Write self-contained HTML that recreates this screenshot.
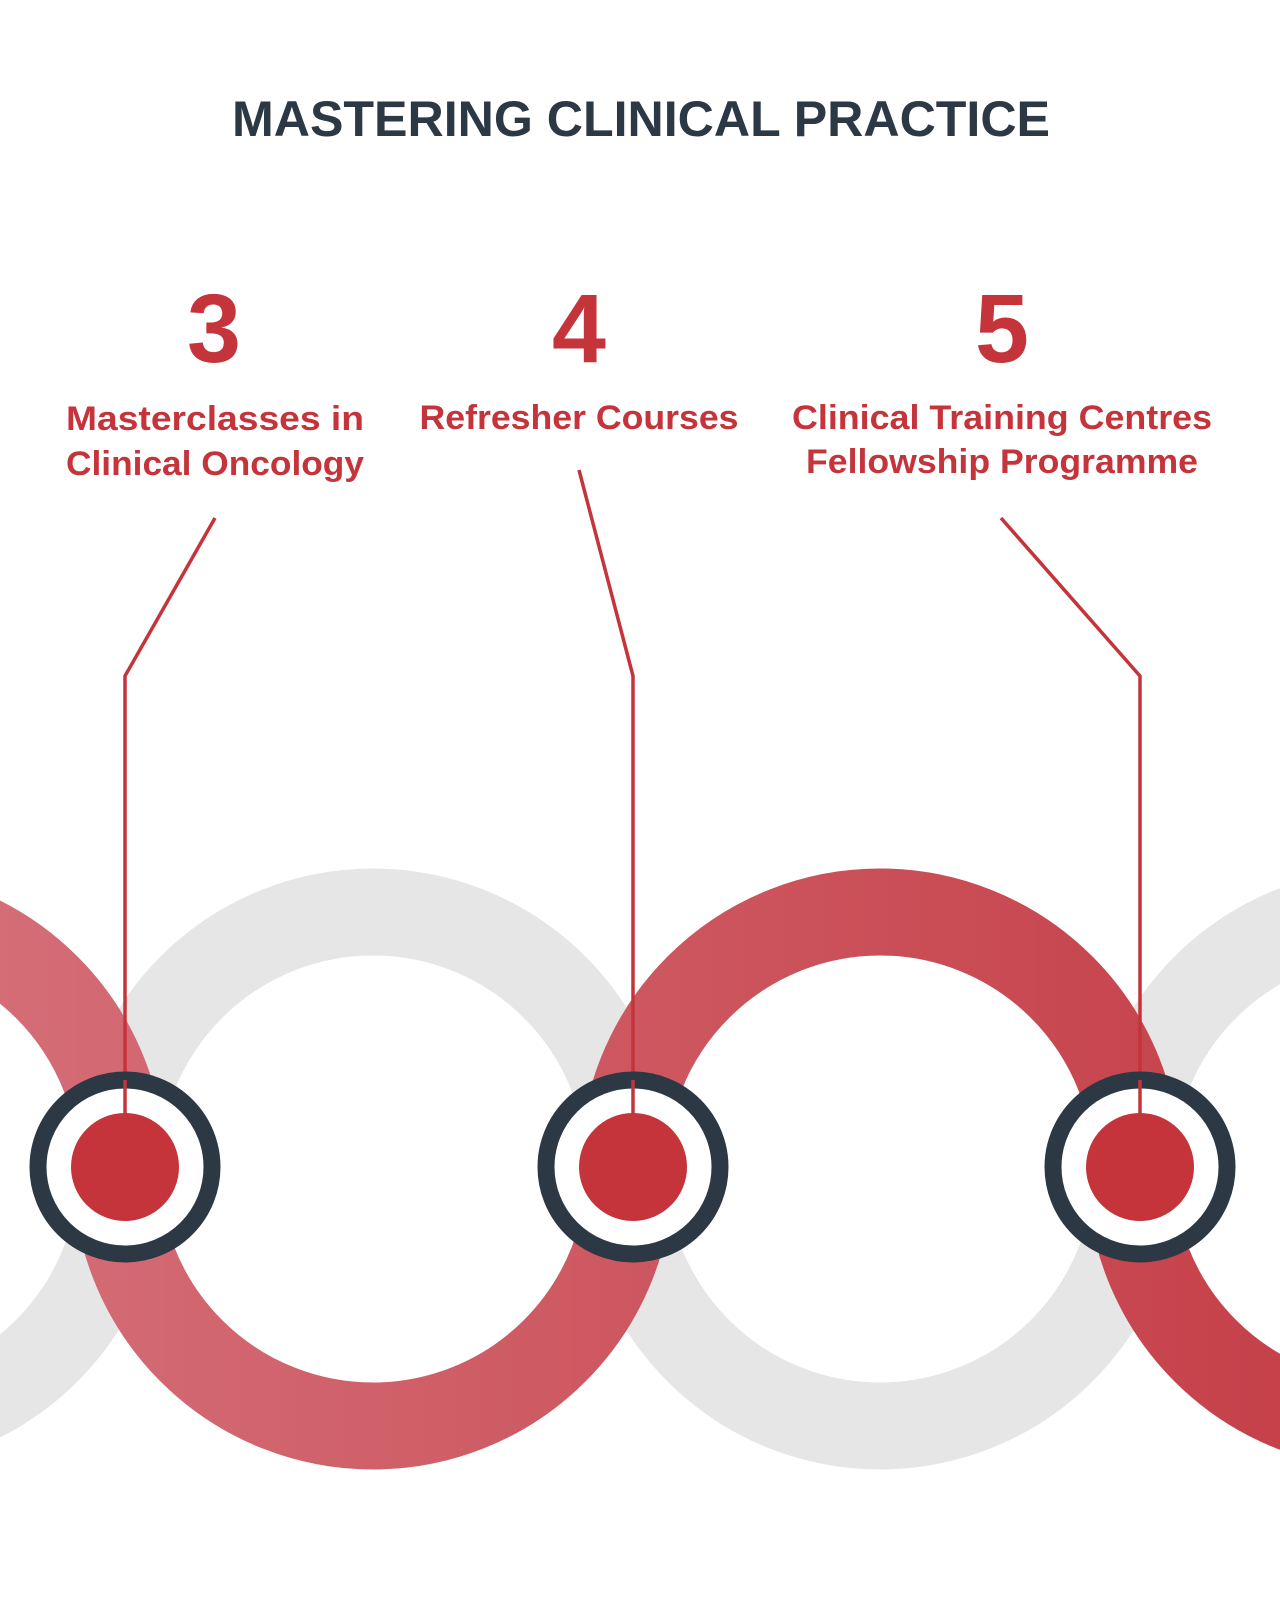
<!DOCTYPE html>
<html><head><meta charset="utf-8"><style>
html,body{margin:0;padding:0;background:#fff;}
svg{display:block;}
</style></head><body>
<svg width="1280" height="1600" viewBox="0 0 1280 1600" xmlns="http://www.w3.org/2000/svg">
<defs>
<linearGradient id="rg" x1="0" y1="0" x2="1280" y2="0" gradientUnits="userSpaceOnUse">
<stop offset="0" stop-color="#d46d76"/><stop offset="1" stop-color="#c6414a"/>
</linearGradient>
</defs>
<rect width="1280" height="1600" fill="#fff"/>
<g fill="none" stroke="#e6e6e6" stroke-width="87">
<circle cx="-135" cy="1169" r="257"/>
<circle cx="373" cy="1169" r="257"/>
<circle cx="880" cy="1169" r="257"/>
<circle cx="1387" cy="1169" r="257"/>
</g>
<g fill="none" stroke="url(#rg)" stroke-width="87">
<path d="M -392 1169 A 257 257 0 0 1 122 1169"/>
<path d="M 116 1169 A 257 257 0 0 0 630 1169"/>
<path d="M 623 1169 A 257 257 0 0 1 1137 1169"/>
<path d="M 1130 1169 A 257 257 0 0 0 1644 1169"/>
</g>
<text x="641" y="136" text-anchor="middle" font-family="Liberation Sans, sans-serif" font-weight="bold" font-size="50" fill="#2d3845" textLength="818" lengthAdjust="spacingAndGlyphs">MASTERING CLINICAL PRACTICE</text>
<g font-family="Liberation Sans, sans-serif" font-weight="bold" fill="#c4343a" text-anchor="middle">
<text x="214" y="362" font-size="97">3</text>
<text x="579" y="362" font-size="97">4</text>
<text x="1002" y="362" font-size="97">5</text>
<g font-size="34">
<text x="215" y="430" textLength="298" lengthAdjust="spacingAndGlyphs">Masterclasses in</text>
<text x="215" y="475" textLength="298" lengthAdjust="spacingAndGlyphs">Clinical Oncology</text>
<text x="579" y="429" textLength="319" lengthAdjust="spacingAndGlyphs">Refresher Courses</text>
<text x="1002" y="429" textLength="420" lengthAdjust="spacingAndGlyphs">Clinical Training Centres</text>
<text x="1002" y="473" textLength="392" lengthAdjust="spacingAndGlyphs">Fellowship Programme</text>
</g>
</g>
<g fill="none" stroke="#c4343a" stroke-width="3.5">
<polyline points="215,518 125,676 125,1115"/>
<polyline points="579,470 633,676 633,1115"/>
<polyline points="1001,518 1140,676 1140,1115"/>
</g>
<g>
<circle cx="125" cy="1167" r="87" fill="#fff" stroke="#2d3845" stroke-width="17"/>
<circle cx="633" cy="1167" r="87" fill="#fff" stroke="#2d3845" stroke-width="17"/>
<circle cx="1140" cy="1167" r="87" fill="#fff" stroke="#2d3845" stroke-width="17"/>
<g stroke="#c4343a" stroke-width="3.5">
<line x1="125" y1="1080" x2="125" y2="1115"/>
<line x1="633" y1="1080" x2="633" y2="1115"/>
<line x1="1140" y1="1080" x2="1140" y2="1115"/>
</g>
<circle cx="125" cy="1167" r="54" fill="#c4343a"/>
<circle cx="633" cy="1167" r="54" fill="#c4343a"/>
<circle cx="1140" cy="1167" r="54" fill="#c4343a"/>
</g>
</svg>
</body></html>
